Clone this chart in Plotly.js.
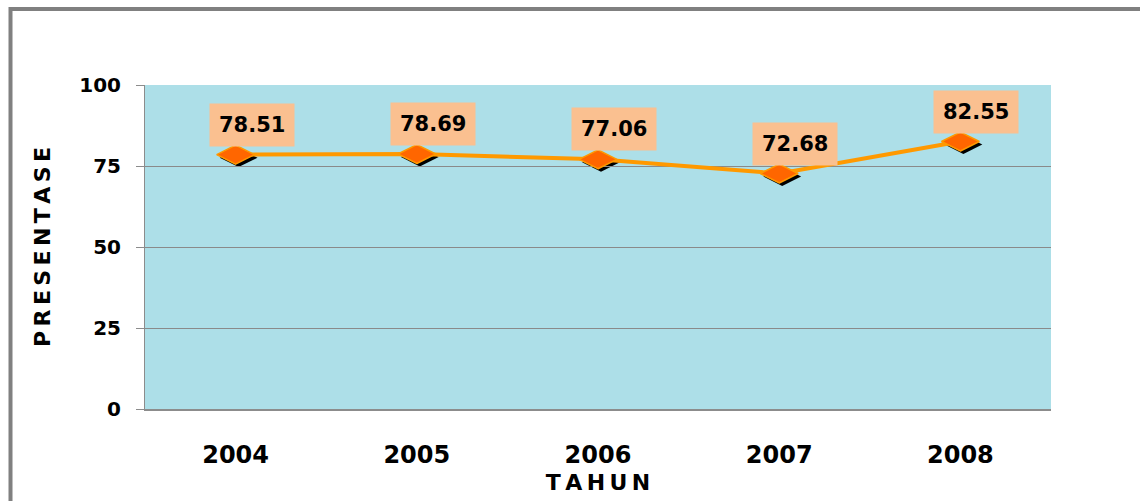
<!DOCTYPE html>
<html>
<head>
<meta charset="utf-8">
<script src="https://cdn.plot.ly/plotly-3.0.1.min.js"></script>
<style>html,body{margin:0;padding:0;background:#fff}#chart{width:1140px;height:501px}</style>
</head>
<body>
<div id="chart"></div>
<script>
const years = ["2004", "2005", "2006", "2007", "2008"];
const values = [78.51, 78.69, 77.06, 72.68, 82.55];
const yTicks = [0, 25, 50, 75, 100];
const xTitle = "TAHUN";
const yTitle = "PRESENTASE";

const W = 1140, H = 501;
const px = v => v / W, py = v => v / H;
const xd = [px(145), px(1051)];
const yd = [1 - py(409), 1 - py(85)];
const sh = 3;
const FONT = "DejaVu Sans, Verdana, sans-serif";
const xRange = [-0.5, years.length - 0.5];
const spaced = s => s.split("").join("\u2009");

const shadow = {
  x: years, y: values, xaxis: "x", yaxis: "y",
  type: "scatter", mode: "markers", hoverinfo: "skip",
  marker: {symbol: "diamond-wide", size: 27, color: "#000000"}
};
const main = {
  x: years, y: values, xaxis: "x2", yaxis: "y2",
  type: "scatter", mode: "lines+markers",
  line: {color: "#ff9900", width: 4},
  marker: {symbol: "diamond-wide", size: 27, color: "#ff6600", line: {color: "#ff9900", width: 1.5}}
};

// category index of each year on the category axis
const annotations = years.map((yr, i) => ({
  x: years.indexOf(yr), y: values[i], xref: "x2", yref: "y2",
  text: values[i].toFixed(2), showarrow: false,
  xanchor: "center", yanchor: "bottom", xshift: 16, yshift: 8,
  bgcolor: "#fac090", borderpad: 9,
  font: {family: FONT, size: 21, color: "#000", weight: "bold"}
}));

const layout = {
  width: W, height: H,
  margin: {l: 0, r: 0, t: 0, b: 0},
  paper_bgcolor: "#ffffff",
  plot_bgcolor: "rgba(0,0,0,0)",
  showlegend: false,
  xaxis: {domain: [xd[0] + px(sh), xd[1] + px(sh)], anchor: "y", type: "category",
          categoryorder: "array", categoryarray: years, range: xRange,
          showgrid: false, showline: false, zeroline: false, showticklabels: false, ticks: ""},
  yaxis: {domain: [yd[0] - py(sh), yd[1] - py(sh)], anchor: "x", range: [0, 100],
          showgrid: false, showline: false, zeroline: false, showticklabels: false, ticks: ""},
  xaxis2: {
    domain: xd, anchor: "y2", type: "category",
    categoryorder: "array", categoryarray: years, range: xRange,
    showgrid: false, showline: true, linecolor: "#8c8c8c", linewidth: 1.5,
    ticks: "", ticklabelstandoff: 24,
    tickfont: {family: FONT, size: 24, color: "#000", weight: "bold"},
    title: {text: spaced(xTitle), standoff: 6, font: {family: FONT, size: 22, color: "#000", weight: "bold"}}
  },
  yaxis2: {
    domain: yd, anchor: "x2", range: [0, 100],
    tickvals: yTicks, ticktext: yTicks.map(String),
    showgrid: true, gridcolor: "#8a8a8a", gridwidth: 1,
    showline: true, linecolor: "#8c8c8c", linewidth: 1,
    ticks: "outside", ticklen: 8, tickcolor: "#8c8c8c", ticklabelstandoff: 11,
    tickfont: {family: FONT, size: 20, color: "#000", weight: "bold"},
    zeroline: false,
    title: {text: spaced(yTitle), standoff: 22, font: {family: FONT, size: 22, color: "#000", weight: "bold"}}
  },
  shapes: [
    {type: "rect", xref: "paper", yref: "paper", layer: "below",
     x0: xd[0], x1: xd[1], y0: yd[0], y1: yd[1],
     fillcolor: "#addfe8", line: {width: 0}},
    {type: "rect", xref: "paper", yref: "paper", layer: "below",
     x0: px(10.5), x1: px(1160), y0: -0.05, y1: 1 - py(9),
     fillcolor: "rgba(0,0,0,0)", line: {color: "#808080", width: 4}}
  ],
  annotations: annotations
};

Plotly.newPlot("chart", [shadow, main], layout, {displayModeBar: false, staticPlot: true});
</script>
</body>
</html>
